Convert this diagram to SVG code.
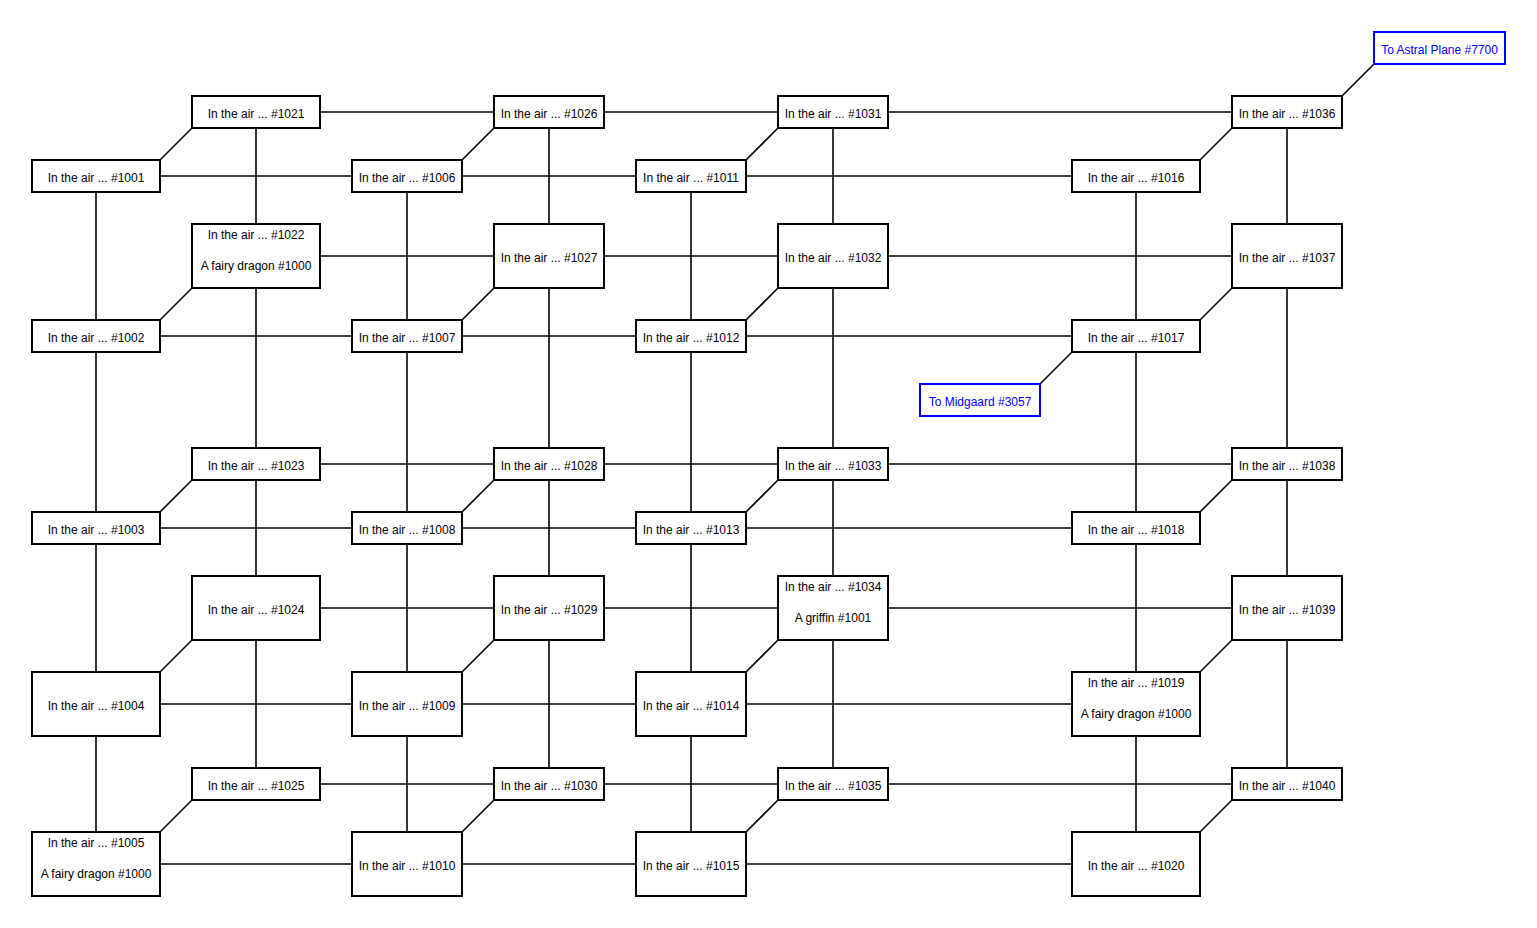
<svg xmlns="http://www.w3.org/2000/svg" width="1537" height="928" viewBox="0 0 1537 928">
<style>
.n rect{fill:#fff;stroke:#000;stroke-width:2}
.n text{font-family:"Liberation Sans",Arial,sans-serif;font-size:12px;fill:#000;text-anchor:middle}
.x rect{fill:#fff;stroke:#00f;stroke-width:2}
.x text{font-family:"Liberation Sans",Arial,sans-serif;font-size:12px;fill:#00f;text-anchor:middle}
#connectors line{stroke:#000;stroke-width:1.6}
</style>
<rect width="1537" height="928" fill="#fff"/>
<g id="connectors">
<line x1="160" y1="176" x2="352" y2="176"/><line x1="462" y1="176" x2="636" y2="176"/><line x1="746" y1="176" x2="1072" y2="176"/>
<line x1="160" y1="336" x2="352" y2="336"/><line x1="462" y1="336" x2="636" y2="336"/><line x1="746" y1="336" x2="1072" y2="336"/>
<line x1="160" y1="528" x2="352" y2="528"/><line x1="462" y1="528" x2="636" y2="528"/><line x1="746" y1="528" x2="1072" y2="528"/>
<line x1="160" y1="704" x2="352" y2="704"/><line x1="462" y1="704" x2="636" y2="704"/><line x1="746" y1="704" x2="1072" y2="704"/>
<line x1="160" y1="864" x2="352" y2="864"/><line x1="462" y1="864" x2="636" y2="864"/><line x1="746" y1="864" x2="1072" y2="864"/>
<line x1="320" y1="112" x2="494" y2="112"/><line x1="604" y1="112" x2="778" y2="112"/><line x1="888" y1="112" x2="1232" y2="112"/>
<line x1="320" y1="256" x2="494" y2="256"/><line x1="604" y1="256" x2="778" y2="256"/><line x1="888" y1="256" x2="1232" y2="256"/>
<line x1="320" y1="464" x2="494" y2="464"/><line x1="604" y1="464" x2="778" y2="464"/><line x1="888" y1="464" x2="1232" y2="464"/>
<line x1="320" y1="608" x2="494" y2="608"/><line x1="604" y1="608" x2="778" y2="608"/><line x1="888" y1="608" x2="1232" y2="608"/>
<line x1="320" y1="784" x2="494" y2="784"/><line x1="604" y1="784" x2="778" y2="784"/><line x1="888" y1="784" x2="1232" y2="784"/>
<line x1="96" y1="192" x2="96" y2="320"/><line x1="96" y1="352" x2="96" y2="512"/><line x1="96" y1="544" x2="96" y2="672"/><line x1="96" y1="736" x2="96" y2="832"/>
<line x1="407" y1="192" x2="407" y2="320"/><line x1="407" y1="352" x2="407" y2="512"/><line x1="407" y1="544" x2="407" y2="672"/><line x1="407" y1="736" x2="407" y2="832"/>
<line x1="691" y1="192" x2="691" y2="320"/><line x1="691" y1="352" x2="691" y2="512"/><line x1="691" y1="544" x2="691" y2="672"/><line x1="691" y1="736" x2="691" y2="832"/>
<line x1="1136" y1="192" x2="1136" y2="320"/><line x1="1136" y1="352" x2="1136" y2="512"/><line x1="1136" y1="544" x2="1136" y2="672"/><line x1="1136" y1="736" x2="1136" y2="832"/>
<line x1="256" y1="128" x2="256" y2="224"/><line x1="256" y1="288" x2="256" y2="448"/><line x1="256" y1="480" x2="256" y2="576"/><line x1="256" y1="640" x2="256" y2="768"/>
<line x1="549" y1="128" x2="549" y2="224"/><line x1="549" y1="288" x2="549" y2="448"/><line x1="549" y1="480" x2="549" y2="576"/><line x1="549" y1="640" x2="549" y2="768"/>
<line x1="833" y1="128" x2="833" y2="224"/><line x1="833" y1="288" x2="833" y2="448"/><line x1="833" y1="480" x2="833" y2="576"/><line x1="833" y1="640" x2="833" y2="768"/>
<line x1="1287" y1="128" x2="1287" y2="224"/><line x1="1287" y1="288" x2="1287" y2="448"/><line x1="1287" y1="480" x2="1287" y2="576"/><line x1="1287" y1="640" x2="1287" y2="768"/>
<line x1="160" y1="160" x2="192" y2="128"/><line x1="160" y1="320" x2="192" y2="288"/><line x1="160" y1="512" x2="192" y2="480"/><line x1="160" y1="672" x2="192" y2="640"/><line x1="160" y1="832" x2="192" y2="800"/>
<line x1="462" y1="160" x2="494" y2="128"/><line x1="462" y1="320" x2="494" y2="288"/><line x1="462" y1="512" x2="494" y2="480"/><line x1="462" y1="672" x2="494" y2="640"/><line x1="462" y1="832" x2="494" y2="800"/>
<line x1="746" y1="160" x2="778" y2="128"/><line x1="746" y1="320" x2="778" y2="288"/><line x1="746" y1="512" x2="778" y2="480"/><line x1="746" y1="672" x2="778" y2="640"/><line x1="746" y1="832" x2="778" y2="800"/>
<line x1="1200" y1="160" x2="1232" y2="128"/><line x1="1200" y1="320" x2="1232" y2="288"/><line x1="1200" y1="512" x2="1232" y2="480"/><line x1="1200" y1="672" x2="1232" y2="640"/><line x1="1200" y1="832" x2="1232" y2="800"/>
<line x1="1342" y1="96" x2="1374" y2="64"/>
<line x1="1072" y1="352" x2="1040" y2="384"/>
</g>
<g id="r1001" class="n"><rect x="32" y="160" width="128" height="32"/><text x="96" y="182">In the air ... #1001</text></g>
<g id="r1002" class="n"><rect x="32" y="320" width="128" height="32"/><text x="96" y="342">In the air ... #1002</text></g>
<g id="r1003" class="n"><rect x="32" y="512" width="128" height="32"/><text x="96" y="534">In the air ... #1003</text></g>
<g id="r1004" class="n"><rect x="32" y="672" width="128" height="64"/><text x="96" y="710">In the air ... #1004</text></g>
<g id="r1005" class="n"><rect x="32" y="832" width="128" height="64"/><text x="96" y="847">In the air ... #1005</text><text x="96" y="878">A fairy dragon #1000</text></g>
<g id="r1006" class="n"><rect x="352" y="160" width="110" height="32"/><text x="407" y="182">In the air ... #1006</text></g>
<g id="r1007" class="n"><rect x="352" y="320" width="110" height="32"/><text x="407" y="342">In the air ... #1007</text></g>
<g id="r1008" class="n"><rect x="352" y="512" width="110" height="32"/><text x="407" y="534">In the air ... #1008</text></g>
<g id="r1009" class="n"><rect x="352" y="672" width="110" height="64"/><text x="407" y="710">In the air ... #1009</text></g>
<g id="r1010" class="n"><rect x="352" y="832" width="110" height="64"/><text x="407" y="870">In the air ... #1010</text></g>
<g id="r1011" class="n"><rect x="636" y="160" width="110" height="32"/><text x="691" y="182">In the air ... #1011</text></g>
<g id="r1012" class="n"><rect x="636" y="320" width="110" height="32"/><text x="691" y="342">In the air ... #1012</text></g>
<g id="r1013" class="n"><rect x="636" y="512" width="110" height="32"/><text x="691" y="534">In the air ... #1013</text></g>
<g id="r1014" class="n"><rect x="636" y="672" width="110" height="64"/><text x="691" y="710">In the air ... #1014</text></g>
<g id="r1015" class="n"><rect x="636" y="832" width="110" height="64"/><text x="691" y="870">In the air ... #1015</text></g>
<g id="r1016" class="n"><rect x="1072" y="160" width="128" height="32"/><text x="1136" y="182">In the air ... #1016</text></g>
<g id="r1017" class="n"><rect x="1072" y="320" width="128" height="32"/><text x="1136" y="342">In the air ... #1017</text></g>
<g id="r1018" class="n"><rect x="1072" y="512" width="128" height="32"/><text x="1136" y="534">In the air ... #1018</text></g>
<g id="r1019" class="n"><rect x="1072" y="672" width="128" height="64"/><text x="1136" y="687">In the air ... #1019</text><text x="1136" y="718">A fairy dragon #1000</text></g>
<g id="r1020" class="n"><rect x="1072" y="832" width="128" height="64"/><text x="1136" y="870">In the air ... #1020</text></g>
<g id="r1021" class="n"><rect x="192" y="96" width="128" height="32"/><text x="256" y="118">In the air ... #1021</text></g>
<g id="r1022" class="n"><rect x="192" y="224" width="128" height="64"/><text x="256" y="239">In the air ... #1022</text><text x="256" y="270">A fairy dragon #1000</text></g>
<g id="r1023" class="n"><rect x="192" y="448" width="128" height="32"/><text x="256" y="470">In the air ... #1023</text></g>
<g id="r1024" class="n"><rect x="192" y="576" width="128" height="64"/><text x="256" y="614">In the air ... #1024</text></g>
<g id="r1025" class="n"><rect x="192" y="768" width="128" height="32"/><text x="256" y="790">In the air ... #1025</text></g>
<g id="r1026" class="n"><rect x="494" y="96" width="110" height="32"/><text x="549" y="118">In the air ... #1026</text></g>
<g id="r1027" class="n"><rect x="494" y="224" width="110" height="64"/><text x="549" y="262">In the air ... #1027</text></g>
<g id="r1028" class="n"><rect x="494" y="448" width="110" height="32"/><text x="549" y="470">In the air ... #1028</text></g>
<g id="r1029" class="n"><rect x="494" y="576" width="110" height="64"/><text x="549" y="614">In the air ... #1029</text></g>
<g id="r1030" class="n"><rect x="494" y="768" width="110" height="32"/><text x="549" y="790">In the air ... #1030</text></g>
<g id="r1031" class="n"><rect x="778" y="96" width="110" height="32"/><text x="833" y="118">In the air ... #1031</text></g>
<g id="r1032" class="n"><rect x="778" y="224" width="110" height="64"/><text x="833" y="262">In the air ... #1032</text></g>
<g id="r1033" class="n"><rect x="778" y="448" width="110" height="32"/><text x="833" y="470">In the air ... #1033</text></g>
<g id="r1034" class="n"><rect x="778" y="576" width="110" height="64"/><text x="833" y="591">In the air ... #1034</text><text x="833" y="622">A griffin #1001</text></g>
<g id="r1035" class="n"><rect x="778" y="768" width="110" height="32"/><text x="833" y="790">In the air ... #1035</text></g>
<g id="r1036" class="n"><rect x="1232" y="96" width="110" height="32"/><text x="1287" y="118">In the air ... #1036</text></g>
<g id="r1037" class="n"><rect x="1232" y="224" width="110" height="64"/><text x="1287" y="262">In the air ... #1037</text></g>
<g id="r1038" class="n"><rect x="1232" y="448" width="110" height="32"/><text x="1287" y="470">In the air ... #1038</text></g>
<g id="r1039" class="n"><rect x="1232" y="576" width="110" height="64"/><text x="1287" y="614">In the air ... #1039</text></g>
<g id="r1040" class="n"><rect x="1232" y="768" width="110" height="32"/><text x="1287" y="790">In the air ... #1040</text></g>
<g id="r7700" class="x"><rect x="1374" y="32" width="131" height="32"/><text x="1439.5" y="54">To Astral Plane #7700</text></g>
<g id="r3057" class="x"><rect x="920" y="384" width="120" height="32"/><text x="980" y="406">To Midgaard #3057</text></g>
</svg>
